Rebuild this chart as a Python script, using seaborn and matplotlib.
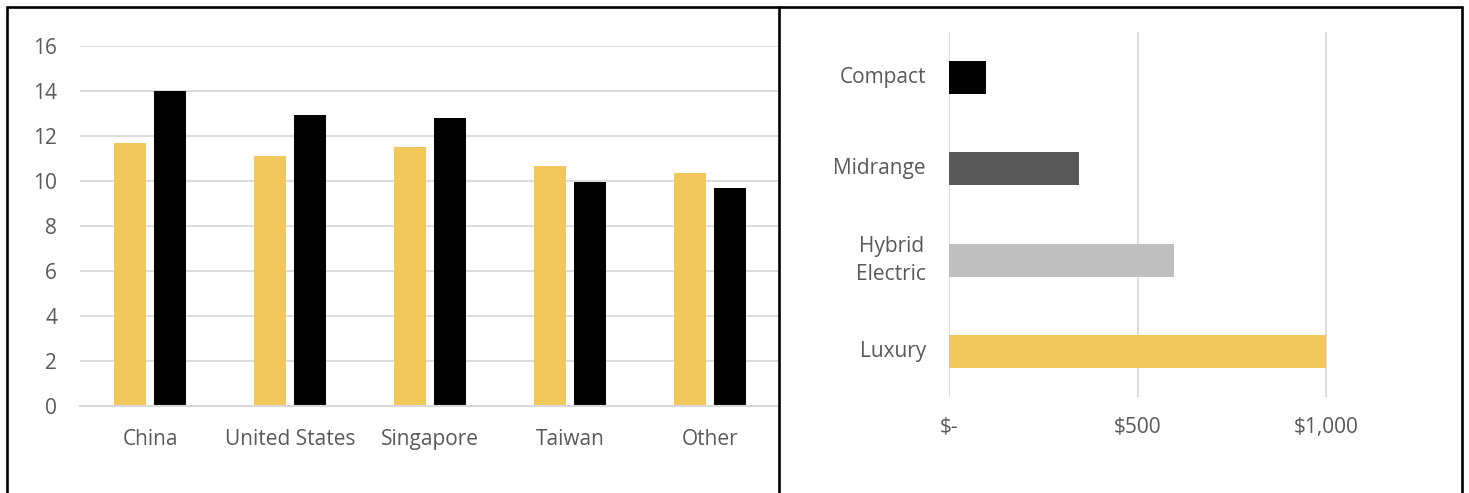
import matplotlib
matplotlib.use("Agg")
import matplotlib.pyplot as plt
from matplotlib.lines import Line2D
import pandas as pd
import seaborn as sns

# Left panel: values by region for two series
regions = ["China", "United States", "Singapore", "Taiwan", "Other"]
series_a = [11.7, 11.1, 11.5, 10.65, 10.35]
series_b = [14.0, 12.95, 12.8, 9.95, 9.7]
series_names = ["Series1", "Series2"]
y_ticks = [0, 2, 4, 6, 8, 10, 12, 14, 16]

# Right panel: cost by vehicle class
classes = ["Compact", "Midrange", "Hybrid\nElectric", "Luxury"]
costs = [98, 345, 598, 1000]
cost_ticks = [0, 500, 1000]
cost_tick_labels = ["$-", "$500", "$1,000"]

GOLD = "#f2c75b"
TEXT = "#595959"
GRID = "#d9d9d9"

sns.set_theme(style="white")
plt.rcParams["font.family"] = ["Open Sans", "DejaVu Sans"]

W, H = 1469, 493
fig = plt.figure(figsize=(W / 100, H / 100), dpi=100)
fig.patch.set_facecolor("white")


def fx(px):
    return px / W


def fy(px):
    return 1 - px / H


# ---- grouped column chart ----
df_left = pd.DataFrame({
    "region": regions * 2,
    "series": [series_names[0]] * len(regions) + [series_names[1]] * len(regions),
    "value": series_a + series_b,
})
ax1 = fig.add_axes([fx(80), fy(406), fx(700), (406 - 46) / H])
sns.barplot(data=df_left, x="region", y="value", hue="series",
            order=regions, hue_order=series_names,
            palette=[GOLD, "#000000"], width=0.57, gap=0.22,
            saturation=1, legend=False, ax=ax1, linewidth=0)
ax1.set_ylim(0, 16)
ax1.set_xlim(-0.5, len(regions) - 0.5)
ax1.set_yticks(y_ticks)
ax1.set_axisbelow(True)
ax1.yaxis.grid(True, color=GRID, linewidth=1.3)
ax1.set_xlabel("")
ax1.set_ylabel("")
for s in ["top", "right", "left"]:
    ax1.spines[s].set_visible(False)
ax1.spines["bottom"].set_color(GRID)
ax1.spines["bottom"].set_linewidth(1.5)
ax1.tick_params(axis="y", length=0, pad=16.5, labelsize=15, labelcolor=TEXT)
ax1.tick_params(axis="x", length=0, pad=16.5, labelsize=15, labelcolor=TEXT)

# ---- horizontal bar chart ----
df_right = pd.DataFrame({"cls": classes, "cost": costs})
ax2 = fig.add_axes([fx(949), fy(397), 377 * 1.2 / W, (397 - 32) / H])
sns.barplot(data=df_right, x="cost", y="cls", hue="cls", order=classes,
            palette=["#000000", "#595959", "#bfbfbf", GOLD],
            width=0.36, saturation=1, legend=False, ax=ax2,
            orient="h", linewidth=0)
ax2.set_xlim(0, 1200)
ax2.set_ylim(len(classes) - 0.5, -0.5)
ax2.set_xticks(cost_ticks)
ax2.set_xticklabels(cost_tick_labels)
ax2.set_axisbelow(True)
ax2.xaxis.grid(True, color=GRID, linewidth=1.3)
ax2.set_xlabel("")
ax2.set_ylabel("")
for s in ax2.spines.values():
    s.set_visible(False)
ax2.tick_params(axis="y", length=0, pad=16.5, labelsize=15, labelcolor=TEXT)
ax2.tick_params(axis="x", length=0, pad=14.5, labelsize=15, labelcolor=TEXT)
for lbl in ax2.get_yticklabels():
    lbl.set_horizontalalignment("right")
    lbl.set_verticalalignment("center")
    lbl.set_multialignment("center")
    lbl.set_linespacing(1.45)

# ---- panel frames ----
frame_kw = dict(color="#000000", linewidth=1.9, transform=fig.transFigure)
fig.add_artist(Line2D([fx(7), fx(1462)], [fy(7), fy(7)], **frame_kw))
for xp in (7, 779, 1462):
    fig.add_artist(Line2D([fx(xp), fx(xp)], [fy(7), 0], **frame_kw))

fig.savefig("out.png", dpi=100, facecolor="white")
